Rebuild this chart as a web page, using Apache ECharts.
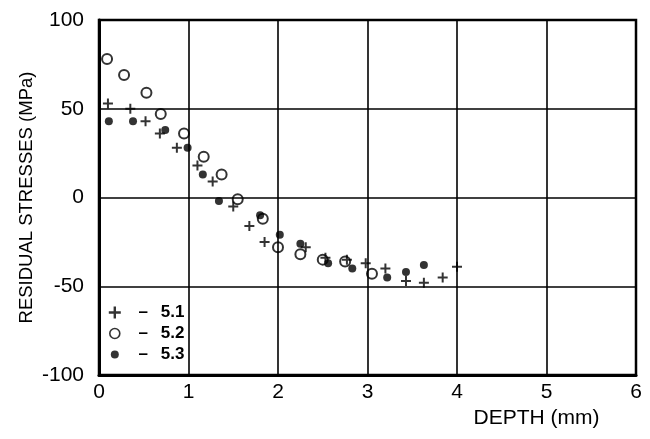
<!DOCTYPE html>
<html>
<head>
<meta charset="utf-8">
<script src="https://cdn.jsdelivr.net/npm/echarts@6/dist/echarts.min.js"></script>
<style>
html,body{margin:0;padding:0;background:#fff;}
#c{width:650px;height:439px;}
</style>
</head>
<body>
<div id="c"></div>
<script>
// Series 5.1 (plus markers)
var s51x = [0.10, 0.35, 0.52, 0.68, 0.87, 1.10, 1.27, 1.50, 1.68, 1.85, 2.31, 2.53, 2.77, 2.98, 3.20, 3.43, 3.63, 3.84, 4.00];
var s51y = [53, 50, 43, 36, 28, 18, 9, -5, -16, -25, -28, -34, -35, -37, -40, -47, -48, -45, -39];
// Series 5.2 (open circles)
var s52x = [0.09, 0.28, 0.53, 0.69, 0.95, 1.17, 1.37, 1.55, 1.83, 2.00, 2.25, 2.50, 2.75, 3.05];
var s52y = [78, 69, 59, 47, 36, 23, 13, -1, -12, -28, -32, -35, -36, -43];
// Series 5.3 (filled dots)
var s53x = [0.11, 0.38, 0.74, 0.99, 1.16, 1.34, 1.80, 2.02, 2.25, 2.56, 2.83, 3.22, 3.43, 3.63];
var s53y = [43, 43, 38, 28, 13, -2, -10, -21, -26, -37, -40, -45, -42, -38];
var seriesNames = ['5.1', '5.2', '5.3'];
var xTicks = [0, 1, 2, 3, 4, 5, 6];
var yTicks = [-100, -50, 0, 50, 100];

function pairs(xs, ys) { return xs.map(function (x, i) { return [x, ys[i]]; }); }

var plusPath = 'path://M0,4H10V6H0Z M4,0H6V10H4Z';
var dotLegend = 'path://M0,0M12,12M2,6a4,4 0 1,0 8,0a4,4 0 1,0 -8,0Z';
var circLegend = 'path://M0,0M12,12M1,6a5,5 0 1,0 10,0a5,5 0 1,0 -10,0Z';
var FONT = '"Liberation Sans", Arial, Helvetica, sans-serif';

var chart = echarts.init(document.getElementById('c'), null, {renderer: 'canvas'});
chart.setOption({
  backgroundColor: '#fff',
  animation: false,
  grid: {left: 99, right: 14, top: 20, bottom: 64, containLabel: false, outerBoundsMode: 'none',
         show: true, borderColor: '#000', borderWidth: 2.5, backgroundColor: 'transparent'},
  legend: {
    orient: 'vertical',
    left: 103,
    top: 299,
    itemWidth: 12,
    itemHeight: 12,
    itemGap: 4,
    data: [
      {name: seriesNames[0], icon: plusPath, itemStyle: {color: '#000', borderWidth: 0}},
      {name: seriesNames[1], icon: circLegend, itemStyle: {color: '#fff', borderColor: '#000', borderWidth: 1.6}},
      {name: seriesNames[2], icon: dotLegend, itemStyle: {color: '#000', borderWidth: 0}}
    ],
    formatter: function (n) { return '{d|\u2013}{v|' + n + '}'; },
    textStyle: {
      color: '#000',
      fontFamily: FONT,
      rich: {
        d: {width: 35, align: 'center', fontSize: 17, fontWeight: 'bold', color: '#000', fontFamily: FONT},
        v: {fontSize: 17, fontWeight: 'bold', color: '#000', fontFamily: FONT}
      }
    }
  },
  xAxis: {
    type: 'value',
    min: xTicks[0],
    max: xTicks[xTicks.length - 1],
    interval: 1,
    name: 'DEPTH (mm)',
    nameLocation: 'middle',
    nameGap: 33,
    nameMoveOverlap: false,
    nameTextStyle: {color: '#000', fontSize: 21, fontFamily: FONT, verticalAlign: 'top', padding: [0, 0, 0, 338]},
    axisLine: {show: true, onZero: false, lineStyle: {color: '#000', width: 3}},
    axisTick: {show: false},
    axisLabel: {color: '#000', fontSize: 21, fontFamily: FONT, margin: 7},
    splitLine: {show: true, lineStyle: {color: '#000', width: 1.6}}
  },
  yAxis: {
    type: 'value',
    min: yTicks[0],
    max: yTicks[yTicks.length - 1],
    interval: 50,
    name: 'RESIDUAL STRESSES (MPa)',
    nameLocation: 'middle',
    nameGap: 63,
    nameMoveOverlap: false,
    nameTextStyle: {color: '#000', fontSize: 18.5, fontFamily: FONT},
    axisLine: {show: true, onZero: false, lineStyle: {color: '#000', width: 3}},
    axisTick: {show: false},
    axisLabel: {color: '#000', fontSize: 21, fontFamily: FONT, margin: 15},
    splitLine: {show: true, lineStyle: {color: '#000', width: 1.6}}
  },
  series: [
    {name: seriesNames[0], type: 'scatter', symbol: plusPath, symbolSize: 10,
     itemStyle: {color: '#000', borderWidth: 0}, data: pairs(s51x, s51y), z: 3},
    {name: seriesNames[1], type: 'scatter', symbol: 'circle', symbolSize: 10,
     itemStyle: {color: 'rgba(255,255,255,0)', borderColor: '#000', borderWidth: 2}, data: pairs(s52x, s52y), z: 4},
    {name: seriesNames[2], type: 'scatter', symbol: 'circle', symbolSize: 8,
     itemStyle: {color: '#000', borderWidth: 0}, data: pairs(s53x, s53y), z: 5}
  ]
});
</script>
</body>
</html>
